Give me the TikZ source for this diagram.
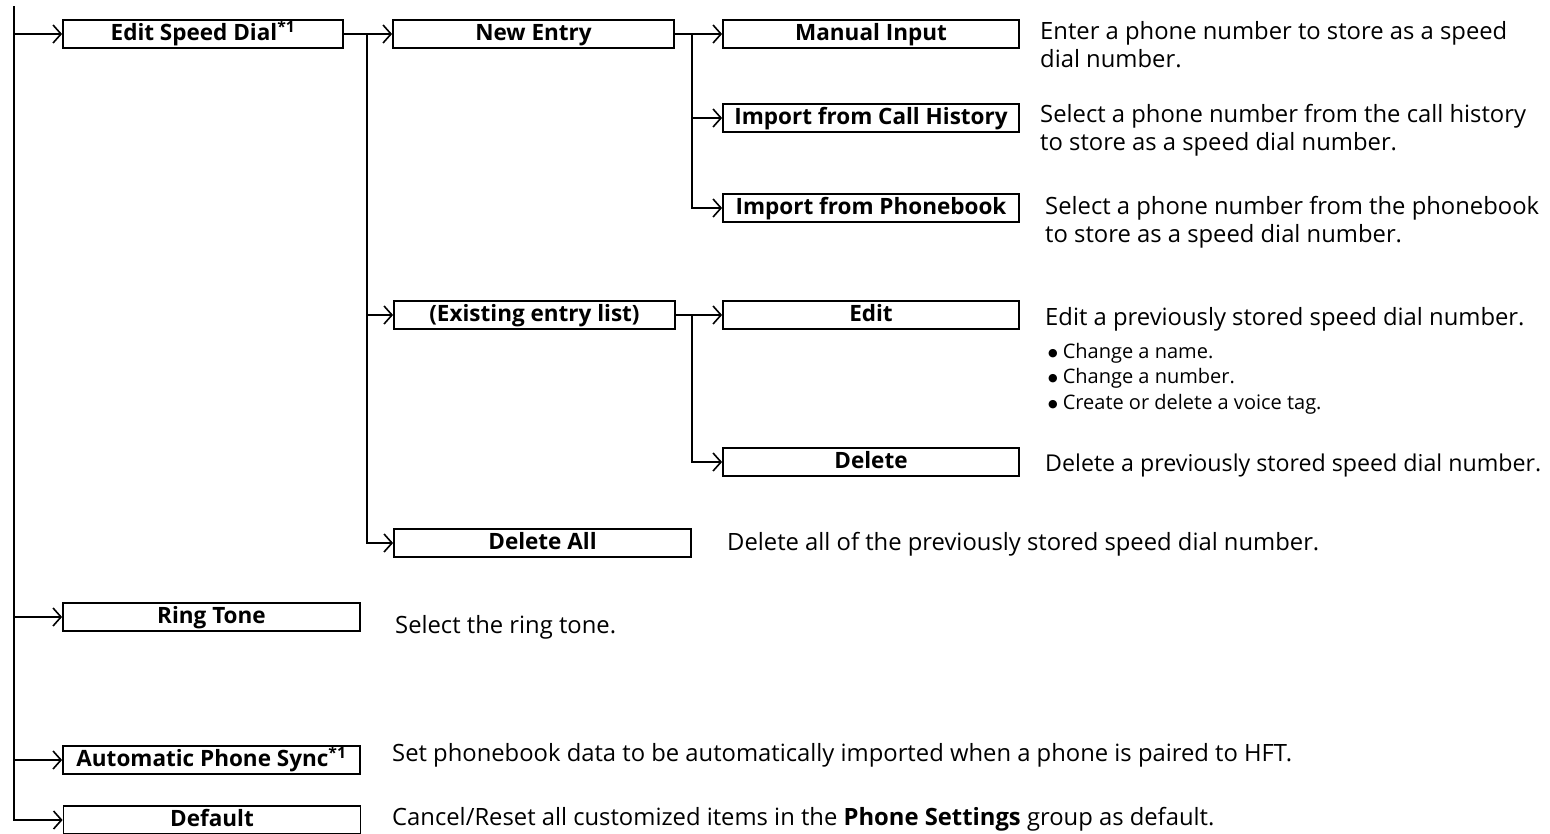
\documentclass[tikz,border=0pt]{standalone}
\usepackage{fontspec}
\setmainfont{Open Sans}
\newfontfamily\dvfont{DejaVu Sans}
\usetikzlibrary{arrows.meta}
\newcommand{\bul}{{\dvfont\fontsize{11}{11}\selectfont\raisebox{1.5pt}{●}}\hspace{5pt}}
\begin{document}
\begin{tikzpicture}[x=1pt,y=-1pt,
  box/.style={draw, line width=1.8pt, minimum height=28pt, inner sep=0pt, text height=16pt, text depth=4pt, font=\fontsize{22.5}{26}\selectfont\bfseries},
  desc/.style={anchor=base west, inner sep=0pt, font=\fontsize{23.8}{28}\selectfont, align=left},
  small/.style={anchor=base west, inner sep=0pt, font=\fontsize{20}{24}\selectfont},
  arr/.style={line width=2pt, -{Straight Barb[length=8pt,width=18pt,line width=1.6pt]}},
]
\useasboundingbox (0,0) rectangle (1550,833);
% level 1 boxes
\node[box, minimum width=280pt] (esd) at (203,34) {Edit Speed Dial\textsuperscript{*1}};
\node[box, minimum width=297pt] (rt) at (211.5,617) {Ring Tone};
\node[box, minimum width=297pt] (aps) at (211.5,760) {Automatic Phone Sync\textsuperscript{*1}};
\node[box, minimum width=297pt] (def) at (212,820) {Default};
% level 2 boxes
\node[box, minimum width=281pt] (ne) at (533.5,34) {New Entry};
\node[box, minimum width=281pt] (eel) at (534.5,315) {(Existing entry list)};
\node[box, minimum width=297pt] (da) at (542.5,543) {Delete All};
% level 3 boxes
\node[box, minimum width=296pt] (mi) at (871,34) {Manual Input};
\node[box, minimum width=296pt] (ich) at (871,118) {Import from Call History};
\node[box, minimum width=296pt] (ipb) at (871,208) {Import from Phonebook};
\node[box, minimum width=296pt] (ed) at (871,315) {Edit};
\node[box, minimum width=296pt] (del) at (871,462) {Delete};
% trunk coordinates
\coordinate (t0) at (14,6);
\coordinate (t1) at (367,0);
\coordinate (t2) at (692,0);
% connectors
\draw[arr] (t0) |- (def.west);
\draw[arr] (esd.west -| t0) -- (esd.west);
\draw[arr] (rt.west -| t0) -- (rt.west);
\draw[arr] (aps.west -| t0) -- (aps.west);
\draw[arr] (esd.east) -- (ne.west);
\draw[arr] (esd.east -| t1) |- (da.west);
\draw[arr] (eel.west -| t1) -- (eel.west);
\draw[arr] (ne.east) -- (mi.west);
\draw[arr] (ne.east -| t2) |- (ipb.west);
\draw[arr] (ich.west -| t2) -- (ich.west);
\draw[arr] (eel.east) -- (ed.west);
\draw[arr] (eel.east -| t2) |- (del.west);
% descriptions
\node[desc] (d1) at (1040,67) {Enter a phone number to store as a speed\\dial number.};
\node[desc] (d2) at (1040,150) {Select a phone number from the call history\\to store as a speed dial number.};
\node[desc] (d3) at (1045,242) {Select a phone number from the phonebook\\to store as a speed dial number.};
\node[desc] (d4) at (1045,325) {Edit a previously stored speed dial number.};
\node[small] (b1) at (1048,358) {\bul Change a name.};
\node[small] (b2) at (1048,383) {\bul Change a number.};
\node[small] (b3) at (1048,409) {\bul Create or delete a voice tag.};
\node[desc, font=\fontsize{23.2}{28}\selectfont] (d5) at (1045,471) {Delete a previously stored speed dial number.};
\node[desc] (d6) at (727,550) {Delete all of the previously stored speed dial number.};
\node[desc] (d7) at (395,633) {Select the ring tone.};
\node[desc] (d8) at (392,761) {Set phonebook data to be automatically imported when a phone is paired to HFT.};
\node[desc] (d9) at (392,825) {Cancel/Reset all customized items in the \textbf{Phone Settings} group as default.};
\end{tikzpicture}
\end{document}
